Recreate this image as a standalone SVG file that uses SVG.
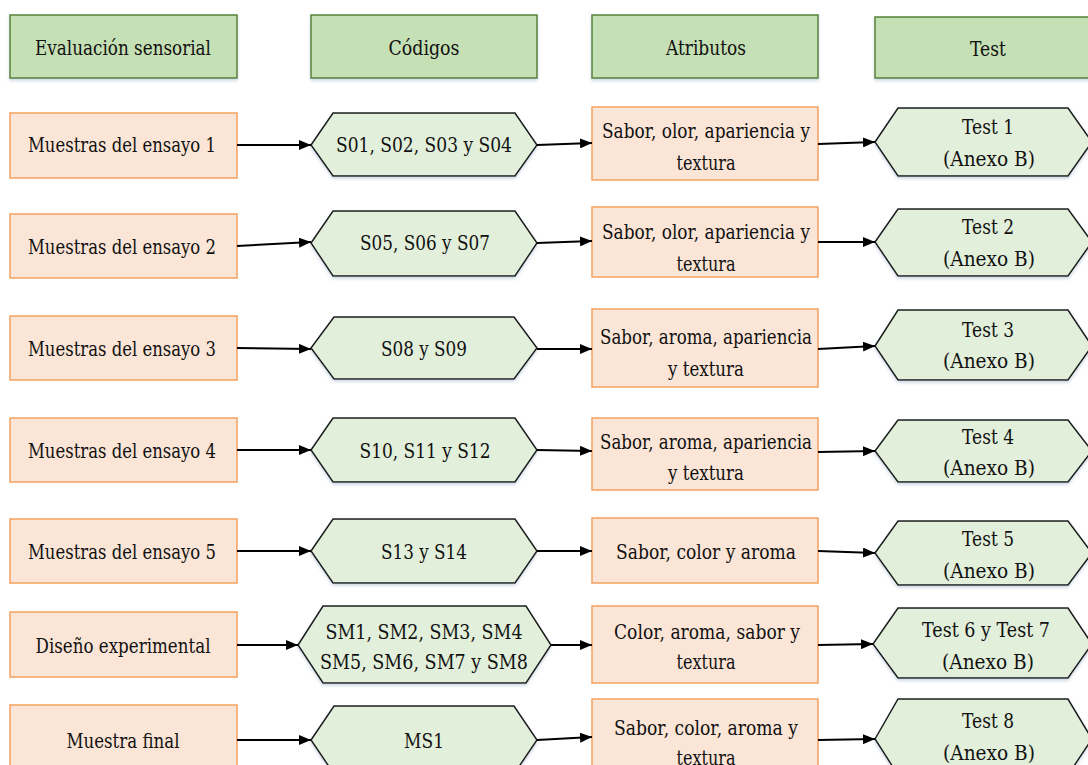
<svg xmlns="http://www.w3.org/2000/svg" width="1088" height="765" viewBox="0 0 1088 765">
  <defs>
    <filter id="soft" x="-5%" y="-10%" width="110%" height="130%">
      <feDropShadow dx="0" dy="2" stdDeviation="1.5" flood-color="#9db0c8" flood-opacity="0.5"/>
    </filter>
    <marker id="arr" viewBox="0 0 12 10" refX="12" refY="5" markerWidth="12" markerHeight="10" markerUnits="userSpaceOnUse" orient="auto">
      <path d="M0,0 L12,5 L0,10 Z" fill="#000"/>
    </marker>
  </defs>
  <style>
    text { font-family: DejaVu Serif, Liberation Serif, serif; font-size: 21px; fill: #111; text-anchor: middle; }
    .hdr { fill: #c5e0b4; stroke: #548235; stroke-width: 1.5; filter: url(#soft); }
    .box { fill: #fbe5d6; stroke: #f4a15f; stroke-width: 1.5; }
    .hex { fill: #e2efda; stroke: #1a1a1a; stroke-width: 1.5; filter: url(#soft); }
    .con line { stroke: #000; stroke-width: 2; marker-end: url(#arr); }
  </style>
  <rect width="1088" height="765" fill="#fff"/>

  <g>
  <!-- column headers -->
  <g id="h-evaluacion"><rect class="hdr" x="10" y="15" width="227" height="63"/><text x="123" y="55" textLength="176" lengthAdjust="spacingAndGlyphs">Evaluación sensorial</text></g>
  <g id="h-codigos"><rect class="hdr" x="311" y="15" width="226" height="63"/><text x="424" y="55" textLength="71" lengthAdjust="spacingAndGlyphs">Códigos</text></g>
  <g id="h-atributos"><rect class="hdr" x="592" y="15" width="226" height="63"/><text x="706" y="55" textLength="80" lengthAdjust="spacingAndGlyphs">Atributos</text></g>
  <g id="h-test"><rect class="hdr" x="875" y="17" width="226" height="61"/><text x="988" y="56" textLength="36" lengthAdjust="spacingAndGlyphs">Test</text></g>

  <!-- row 1 -->
  <g id="m1"><rect class="box" x="10" y="113" width="227" height="65"/><text x="122" y="152" textLength="188" lengthAdjust="spacingAndGlyphs">Muestras del ensayo 1</text></g>
  <g id="c1"><polygon class="hex" points="311,145 333,113 515,113 537,145 515,176 333,176"/><text x="424" y="152" textLength="176" lengthAdjust="spacingAndGlyphs">S01, S02, S03 y S04</text></g>
  <g id="a1"><rect class="box" x="592" y="107" width="226" height="73"/><text x="706" y="138" textLength="208" lengthAdjust="spacingAndGlyphs">Sabor, olor, apariencia y</text><text x="706" y="170" textLength="59" lengthAdjust="spacingAndGlyphs">textura</text></g>
  <g id="t1"><polygon class="hex" points="875,142 898,108 1068,108 1092,142 1068,176 898,176"/><text x="988" y="134" textLength="52" lengthAdjust="spacingAndGlyphs">Test 1</text><text x="989" y="166" textLength="92" lengthAdjust="spacingAndGlyphs">(Anexo B)</text></g>

  <!-- row 2 -->
  <g id="m2"><rect class="box" x="10" y="214" width="227" height="64"/><text x="122" y="254" textLength="188" lengthAdjust="spacingAndGlyphs">Muestras del ensayo 2</text></g>
  <g id="c2"><polygon class="hex" points="311,243 333,211 515,211 537,243 515,276 333,276"/><text x="425" y="250" textLength="130" lengthAdjust="spacingAndGlyphs">S05, S06 y S07</text></g>
  <g id="a2"><rect class="box" x="592" y="207" width="226" height="70"/><text x="706" y="239" textLength="208" lengthAdjust="spacingAndGlyphs">Sabor, olor, apariencia y</text><text x="706" y="271" textLength="59" lengthAdjust="spacingAndGlyphs">textura</text></g>
  <g id="t2"><polygon class="hex" points="875,242 898,209 1068,209 1092,242 1068,276 898,276"/><text x="988" y="234" textLength="52" lengthAdjust="spacingAndGlyphs">Test 2</text><text x="989" y="266" textLength="92" lengthAdjust="spacingAndGlyphs">(Anexo B)</text></g>

  <!-- row 3 -->
  <g id="m3"><rect class="box" x="10" y="316" width="227" height="64"/><text x="122" y="356" textLength="188" lengthAdjust="spacingAndGlyphs">Muestras del ensayo 3</text></g>
  <g id="c3"><polygon class="hex" points="311,348 334,317 514,317 537,348 514,379 334,379"/><text x="424" y="356" textLength="86" lengthAdjust="spacingAndGlyphs">S08 y S09</text></g>
  <g id="a3"><rect class="box" x="592" y="309" width="226" height="78"/><text x="706" y="344" textLength="212" lengthAdjust="spacingAndGlyphs">Sabor, aroma, apariencia</text><text x="706" y="376" textLength="76" lengthAdjust="spacingAndGlyphs">y textura</text></g>
  <g id="t3"><polygon class="hex" points="875,346 898,310 1068,310 1092,346 1068,380 898,380"/><text x="988" y="337" textLength="52" lengthAdjust="spacingAndGlyphs">Test 3</text><text x="989" y="368" textLength="92" lengthAdjust="spacingAndGlyphs">(Anexo B)</text></g>

  <!-- row 4 -->
  <g id="m4"><rect class="box" x="10" y="418" width="227" height="64"/><text x="122" y="458" textLength="188" lengthAdjust="spacingAndGlyphs">Muestras del ensayo 4</text></g>
  <g id="c4"><polygon class="hex" points="311,450 333,418 515,418 537,450 515,482 333,482"/><text x="425" y="458" textLength="131" lengthAdjust="spacingAndGlyphs">S10, S11 y S12</text></g>
  <g id="a4"><rect class="box" x="592" y="418" width="226" height="72"/><text x="706" y="449" textLength="212" lengthAdjust="spacingAndGlyphs">Sabor, aroma, apariencia</text><text x="706" y="480" textLength="76" lengthAdjust="spacingAndGlyphs">y textura</text></g>
  <g id="t4"><polygon class="hex" points="875,451 898,420 1068,420 1092,451 1068,482 898,482"/><text x="988" y="444" textLength="52" lengthAdjust="spacingAndGlyphs">Test 4</text><text x="989" y="475" textLength="92" lengthAdjust="spacingAndGlyphs">(Anexo B)</text></g>

  <!-- row 5 -->
  <g id="m5"><rect class="box" x="10" y="519" width="227" height="64"/><text x="122" y="559" textLength="188" lengthAdjust="spacingAndGlyphs">Muestras del ensayo 5</text></g>
  <g id="c5"><polygon class="hex" points="311,551 333,519 515,519 537,551 515,583 333,583"/><text x="424" y="559" textLength="86" lengthAdjust="spacingAndGlyphs">S13 y S14</text></g>
  <g id="a5"><rect class="box" x="592" y="518" width="226" height="65"/><text x="706" y="559" textLength="180" lengthAdjust="spacingAndGlyphs">Sabor, color y aroma</text></g>
  <g id="t5"><polygon class="hex" points="875,553 898,521 1068,521 1092,553 1068,585 898,585"/><text x="988" y="546" textLength="52" lengthAdjust="spacingAndGlyphs">Test 5</text><text x="989" y="578" textLength="92" lengthAdjust="spacingAndGlyphs">(Anexo B)</text></g>

  <!-- row 6 -->
  <g id="m6"><rect class="box" x="10" y="612" width="227" height="65"/><text x="123" y="653" textLength="175" lengthAdjust="spacingAndGlyphs">Diseño experimental</text></g>
  <g id="c6"><polygon class="hex" points="298,645 323,606 526,606 551,645 526,683 323,683"/><text x="424" y="639" textLength="197" lengthAdjust="spacingAndGlyphs">SM1, SM2, SM3, SM4</text><text x="424" y="669" textLength="208" lengthAdjust="spacingAndGlyphs">SM5, SM6, SM7 y SM8</text></g>
  <g id="a6"><rect class="box" x="592" y="606" width="226" height="77"/><text x="707" y="639" textLength="186" lengthAdjust="spacingAndGlyphs">Color, aroma, sabor y</text><text x="706" y="669" textLength="59" lengthAdjust="spacingAndGlyphs">textura</text></g>
  <g id="t6"><polygon class="hex" points="873,644 898,608 1068,608 1092,644 1068,678 898,678"/><text x="986" y="637" textLength="128" lengthAdjust="spacingAndGlyphs">Test 6 y Test 7</text><text x="988" y="669" textLength="92" lengthAdjust="spacingAndGlyphs">(Anexo B)</text></g>

  <!-- row 7 -->
  <g id="m7"><rect class="box" x="10" y="705" width="227" height="70"/><text x="123" y="748" textLength="113" lengthAdjust="spacingAndGlyphs">Muestra final</text></g>
  <g id="c7"><polygon class="hex" points="311,740 334,706 514,706 537,740 514,774 334,774"/><text x="424" y="748" textLength="40" lengthAdjust="spacingAndGlyphs">MS1</text></g>
  <g id="a7"><rect class="box" x="592" y="699" width="226" height="76"/><text x="706" y="735" textLength="184" lengthAdjust="spacingAndGlyphs">Sabor, color, aroma y</text><text x="706" y="765" textLength="59" lengthAdjust="spacingAndGlyphs">textura</text></g>
  <g id="t7"><polygon class="hex" points="875,739 898,699 1068,699 1092,739 1068,775 898,775"/><text x="988" y="728" textLength="52" lengthAdjust="spacingAndGlyphs">Test 8</text><text x="989" y="760" textLength="92" lengthAdjust="spacingAndGlyphs">(Anexo B)</text></g>
  </g>

  <!-- connectors -->
  <g class="con" id="connectors">
    <line x1="237" y1="145" x2="311" y2="145"/>
    <line x1="537" y1="145" x2="592" y2="143"/>
    <line x1="818" y1="144" x2="875" y2="142"/>

    <line x1="237" y1="246" x2="311" y2="242"/>
    <line x1="537" y1="243" x2="592" y2="241"/>
    <line x1="818" y1="242" x2="875" y2="242"/>

    <line x1="237" y1="348" x2="311" y2="349"/>
    <line x1="537" y1="349" x2="592" y2="349"/>
    <line x1="818" y1="349" x2="875" y2="346"/>

    <line x1="237" y1="450" x2="311" y2="450"/>
    <line x1="537" y1="450" x2="592" y2="451"/>
    <line x1="818" y1="452" x2="875" y2="451"/>

    <line x1="237" y1="551" x2="311" y2="551"/>
    <line x1="537" y1="551" x2="592" y2="551"/>
    <line x1="818" y1="551" x2="875" y2="553"/>

    <line x1="237" y1="645" x2="298" y2="645"/>
    <line x1="551" y1="645" x2="592" y2="645"/>
    <line x1="818" y1="645" x2="873" y2="644"/>

    <line x1="237" y1="740" x2="311" y2="740"/>
    <line x1="537" y1="740" x2="592" y2="737"/>
    <line x1="818" y1="740" x2="875" y2="739"/>
  </g>
</svg>
